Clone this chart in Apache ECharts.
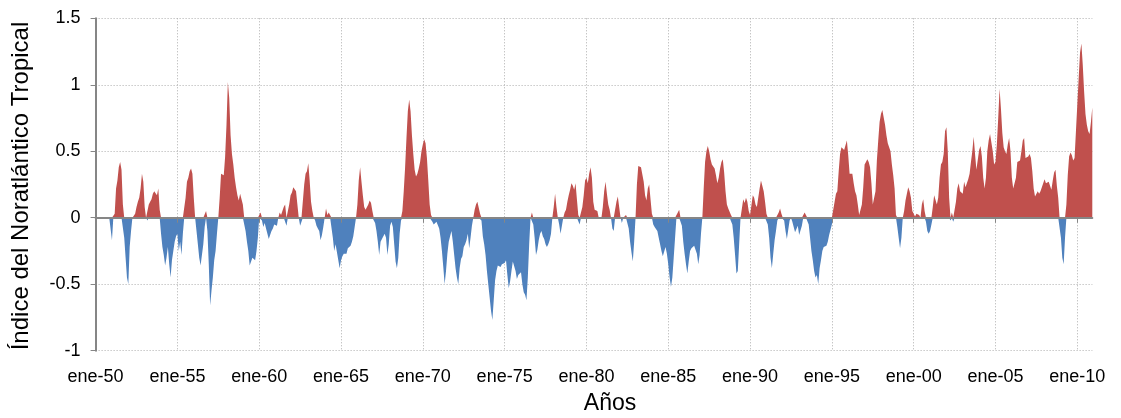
<!DOCTYPE html>
<html>
<head>
<meta charset="utf-8">
<script src="https://cdn.jsdelivr.net/npm/echarts@6/dist/echarts.min.js"></script>
<style>html,body{margin:0;padding:0;background:#fff}#c{width:1121px;height:418px}</style>
</head>
<body>
<div id="c"></div>
<script>
// Month abbreviations (Spanish) and years -> categories like "ene-50"
const monthNames = ['ene','feb','mar','abr','may','jun','jul','ago','sep','oct','nov','dic'];
const firstYear = 1950;
const lastYear = 2010;

// Tropical North Atlantic index, monthly values (one row per year)
const tna1950s = [
  0,0,0,0,0,0,0,0,0,0,0,0,
  -0.17,0,0.03,0.22,0.28,0.38,0.42,0.36,0.1,-0.15,-0.3,-0.45,
  -0.5,-0.22,-0.1,0,0.01,0.03,0.08,0.12,0.15,0.22,0.33,0.27,
  0.08,0,-0.02,0.1,0.12,0.14,0.18,0.2,0.2,0.17,0.22,0.06,
  -0.12,-0.22,-0.28,-0.36,-0.3,-0.22,-0.35,-0.45,-0.32,-0.25,-0.18,-0.14,
  -0.12,-0.25,-0.18,-0.28,-0.12,0,0.15,0.27,0.3,0.35,0.37,0.33,
  0.15,0,-0.1,-0.2,-0.3,-0.36,-0.35,-0.2,-0.07,0.05,-0.1,-0.35,
  -0.66,-0.55,-0.45,-0.32,-0.25,-0.12,0,0.15,0.33,0.32,0.32,0.46,
  0.7,1.02,0.9,0.62,0.48,0.4,0.3,0.23,0.17,0.13,0.18,0.19,
  0.1,0,-0.1,-0.18,-0.25,-0.36,-0.35,-0.3,-0.3,-0.32,-0.25,-0.15
];
const tna1960s = [
  0,0.04,-0.02,-0.07,-0.04,-0.08,-0.12,-0.16,-0.13,-0.1,-0.08,-0.05,
  -0.05,-0.06,0,0.04,0.02,0.05,0.08,0.1,-0.06,0,0.1,0.17,
  0.19,0.23,0.24,0.2,0.2,0,-0.06,-0.05,0,0.25,0.33,0.35,
  0.41,0.28,0.12,0.05,0,-0.02,-0.06,-0.08,-0.1,-0.17,-0.13,-0.07,
  0,0.07,0.02,0.04,0.03,0,-0.15,-0.25,-0.2,-0.26,-0.32,-0.38,
  -0.32,-0.29,-0.27,-0.26,-0.27,-0.23,-0.22,-0.21,-0.18,-0.14,-0.07,0,
  0.1,0.28,0.38,0.27,0.17,0.08,0.06,0.07,0.1,0.13,0.11,0.05,
  0,-0.04,-0.1,-0.18,-0.28,-0.18,-0.16,-0.15,-0.12,-0.15,-0.28,-0.2,
  -0.06,-0.03,-0.07,-0.2,-0.33,-0.38,-0.3,-0.12,-0.02,0.05,0.2,0.38,
  0.6,0.8,0.89,0.8,0.62,0.48,0.36,0.31,0.33,0.37,0.42,0.5
];
const tna1970s = [
  0.55,0.59,0.56,0.45,0.28,0.1,0.02,-0.03,-0.05,-0.04,-0.03,-0.04,
  -0.08,-0.15,-0.25,-0.37,-0.5,-0.4,-0.27,-0.18,-0.14,-0.1,-0.18,-0.28,
  -0.38,-0.45,-0.5,-0.38,-0.31,-0.29,-0.22,-0.2,-0.17,-0.12,-0.23,-0.15,
  -0.06,0,0.06,0.1,0.12,0.12,0.03,-0.02,-0.14,-0.2,-0.28,-0.4,
  -0.5,-0.6,-0.7,-0.77,-0.62,-0.47,-0.4,-0.36,-0.35,-0.37,-0.35,-0.35,
  -0.34,-0.32,-0.43,-0.53,-0.48,-0.4,-0.33,-0.32,-0.4,-0.46,-0.43,-0.42,
  -0.41,-0.5,-0.56,-0.58,-0.62,-0.45,-0.2,0,0.04,-0.05,-0.15,-0.28,
  -0.24,-0.17,-0.12,-0.1,-0.14,-0.16,-0.2,-0.22,-0.2,-0.17,-0.12,0,
  0.08,0.18,0.08,0,-0.05,-0.12,-0.06,0,0.04,0.06,0.12,0.17,
  0.21,0.26,0.24,0.21,0.26,0.14,0.02,-0.05,0,0.08,0.17,0.28
];
const tna1980s = [
  0.3,0.26,0.33,0.38,0.3,0.12,0.06,0.06,0.05,0,0,0,
  0.08,0.2,0.27,0.18,0.1,0.06,0,-0.08,-0.1,0,0.12,0.16,
  0.08,0,-0.04,0,0,0.02,0,-0.08,-0.18,-0.26,-0.33,-0.18,
  0,0.25,0.39,0.38,0.38,0.37,0.27,0.17,0.13,0.22,0.25,0.14,
  0.03,-0.05,-0.07,-0.08,-0.1,-0.15,-0.2,-0.25,-0.29,-0.3,-0.22,-0.27,
  -0.35,-0.45,-0.52,-0.45,-0.3,-0.15,0,0.04,0.06,0,-0.06,-0.18,
  -0.27,-0.35,-0.42,-0.33,-0.25,-0.23,-0.22,-0.21,-0.2,-0.27,-0.35,-0.28,
  -0.12,0,0.22,0.42,0.5,0.54,0.5,0.44,0.4,0.4,0.37,0.32,
  0.26,0.3,0.37,0.42,0.44,0.34,0.2,0.1,0.07,0.06,0.02,-0.05,
  -0.15,-0.28,-0.42,-0.4,-0.2,0,0.07,0.14,0.11,0.15,0.12,0.05
];
const tna1990s = [
  0.02,0.02,0.17,0.15,0.1,0.08,0.09,0.22,0.28,0.27,0.2,0.12,
  0.03,-0.05,-0.15,-0.3,-0.38,-0.27,-0.17,-0.1,-0.02,0.04,0.07,0.03,
  0,-0.02,-0.1,-0.16,-0.15,-0.02,0,-0.03,-0.07,-0.11,-0.1,-0.06,
  -0.13,-0.14,-0.06,0,0.04,0.05,0,-0.05,-0.15,-0.25,-0.32,-0.4,
  -0.45,-0.43,-0.5,-0.38,-0.32,-0.25,-0.22,-0.21,-0.21,-0.18,-0.13,-0.09,
  -0.05,0,0.12,0.18,0.2,0.35,0.48,0.53,0.52,0.51,0.5,0.58,
  0.47,0.33,0.32,0.33,0.26,0.2,0.17,0.1,0.02,0.02,0.1,0.23,
  0.4,0.42,0.44,0.42,0.38,0.26,0.1,0.1,0.2,0.43,0.58,0.72,
  0.78,0.81,0.8,0.7,0.62,0.56,0.56,0.5,0.4,0.32,0.22,0.02,
  -0.07,-0.15,-0.23,-0.15,0,0.05,0.13,0.18,0.23,0.2,0.15,0.05
];
const tna2000s = [
  0.05,0.01,0.03,0.03,0.02,0,0.1,0.14,0.05,-0.03,-0.1,-0.12,
  -0.1,-0.05,0.08,0.17,0.18,0.1,0.15,0.3,0.4,0.42,0.48,0.65,
  0.68,0.5,0.15,-0.02,0.04,-0.03,0,0.12,0.22,0.26,0.2,0.2,
  0.18,0.27,0.23,0.26,0.29,0.33,0.42,0.5,0.61,0.48,0.36,0.35,
  0.51,0.54,0.46,0.3,0.22,0.3,0.5,0.58,0.63,0.62,0.5,0.4,
  0.42,0.55,0.75,0.97,0.82,0.64,0.53,0.5,0.48,0.55,0.6,0.5,
  0.3,0.22,0.22,0.3,0.42,0.41,0.43,0.5,0.58,0.6,0.45,0.44,
  0.46,0.48,0.45,0.35,0.22,0.16,0.16,0.2,0.18,0.2,0.23,0.26,
  0.29,0.26,0.27,0.27,0.26,0.21,0.28,0.34,0.36,0.24,0.15,0,
  -0.15,-0.3,-0.35,-0.15,0.1,0.32,0.46,0.49,0.47,0.43,0.45,0.65
];
const tna2010 = [0.85,1.05,1.24,1.31,1.15,0.95,0.78,0.7,0.65,0.63,0.72,0.83];

const yMin = -1, yMax = 1.5, yStep = 0.5;
const labelEveryMonths = 60;

const categories = [];
for (let y = firstYear; y <= lastYear; y++) {
  for (const m of monthNames) categories.push(m + '-' + String(y % 100).padStart(2, '0'));
}
const values = [].concat(tna1950s, tna1960s, tna1970s, tna1980s, tna1990s, tna2000s, tna2010);
// split into the warm (positive) and cold (negative) parts for two-colour fill
const positive = values.map(v => Math.max(v, 0));
const negative = values.map(v => Math.min(v, 0));

const FONT = '"Liberation Sans", Arial, Helvetica, sans-serif';
const every = (i) => i % labelEveryMonths === 0;
const GRID = '#ADADAD';

const chart = echarts.init(document.getElementById('c'), null, {renderer: 'canvas'});
chart.setOption({
  animation: false,
  backgroundColor: '#ffffff',
  textStyle: {fontFamily: FONT},
  grid: {left: 95.6, right: 28.7, top: 18.3, bottom: 67.3, containLabel: false},
  xAxis: [
    {
      type: 'category',
      data: categories,
      boundaryGap: false,
      position: 'bottom',
      axisLine: {show: false, onZero: false},
      axisTick: {show: false},
      axisLabel: {interval: (i) => every(i), color: '#000', fontSize: 18, margin: 17, fontFamily: FONT},
      splitLine: {show: true, interval: (i) => every(i), lineStyle: {color: GRID, type: [1, 2], width: 1}}
    },
    {
      type: 'category',
      data: categories,
      boundaryGap: false,
      position: 'bottom',
      z: 5,
      axisLine: {show: true, onZero: true, lineStyle: {color: '#868686', width: 2}},
      axisTick: {show: true, interval: (i) => every(i), length: 5, lineStyle: {color: '#868686', width: 1}},
      axisLabel: {show: false},
      splitLine: {show: false}
    }
  ],
  yAxis: {
    type: 'value',
    min: yMin, max: yMax, interval: yStep,
    axisLine: {show: true, lineStyle: {color: '#868686', width: 2}},
    axisTick: {show: true, length: 5, lineStyle: {color: '#868686'}},
    axisLabel: {color: '#000', fontSize: 18, margin: 15, fontFamily: FONT},
    splitLine: {show: true, lineStyle: {color: GRID, type: [1, 2], width: 1}}
  },
  series: [
    {
      name: 'positivo',
      type: 'line',
      xAxisIndex: 0,
      data: positive,
      showSymbol: false,
      symbol: 'none',
      lineStyle: {width: 0, color: '#C0504D'},
      itemStyle: {color: '#C0504D'},
      areaStyle: {color: '#C0504D', opacity: 1},
      z: 2
    },
    {
      name: 'negativo',
      type: 'line',
      xAxisIndex: 0,
      data: negative,
      showSymbol: false,
      symbol: 'none',
      lineStyle: {width: 0, color: '#4F81BD'},
      itemStyle: {color: '#4F81BD'},
      areaStyle: {color: '#4F81BD', opacity: 1},
      z: 2
    }
  ],
  graphic: [
    {
      type: 'text', x: 21, y: 186, rotation: Math.PI / 2,
      style: {text: 'Índice del Noratlántico Tropical', font: '24px ' + FONT, fill: '#000',
              align: 'center', verticalAlign: 'middle', textAlign: 'center', textVerticalAlign: 'middle'}
    },
    {
      type: 'text', x: 610, y: 404,
      style: {text: 'Años', font: '23px ' + FONT, fill: '#000',
              align: 'center', verticalAlign: 'middle', textAlign: 'center', textVerticalAlign: 'middle'}
    }
  ]
});
</script>
</body>
</html>
